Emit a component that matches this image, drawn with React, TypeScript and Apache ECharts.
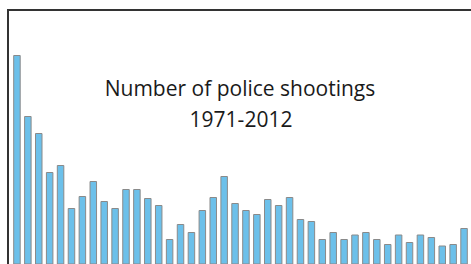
import React, { useEffect, useRef } from "react";
import * as echarts from "echarts";

const years: string[] = [
  "1971", "1972", "1973", "1974", "1975", "1976", "1977", "1978", "1979", "1980",
  "1981", "1982", "1983", "1984", "1985", "1986", "1987", "1988", "1989", "1990",
  "1991", "1992", "1993", "1994", "1995", "1996", "1997", "1998", "1999", "2000",
  "2001", "2002", "2003", "2004", "2005", "2006", "2007", "2008", "2009", "2010",
  "2011", "2012",
];

const shootings: number[] = [
  470, 348, 314, 236, 250, 164, 188, 218, 178, 164,
  202, 202, 184, 170, 102, 132, 116, 160, 186, 228,
  174, 160, 152, 182, 170, 186, 142, 138, 102, 116,
  102, 111, 116, 102, 92, 111, 96, 111, 106, 89,
  92, 124,
];

const titleLines: string[] = ["Number of police shootings", "1971-2012"];

export default function App() {
  const ref = useRef<HTMLDivElement>(null);
  useEffect(() => {
    if (!ref.current) return;
    const chart = echarts.init(ref.current, null, { renderer: "svg" });
    chart.setOption({
      animation: false,
      backgroundColor: "#ffffff",
      grid: { left: 11.5, right: 1.5, top: 0, bottom: 0, containLabel: false },
      xAxis: {
        type: "category",
        data: years,
        show: false,
        boundaryGap: true,
      },
      yAxis: {
        type: "value",
        min: 52,
        max: 580,
        show: false,
        splitLine: { show: false },
      },
      series: [
        {
          type: "bar",
          data: shootings,
          barWidth: 7.5,
          itemStyle: {
            color: "#6cc0ea",
            borderColor: "#8a8a8a",
            borderWidth: 1,
          },
          clip: true,
        },
      ],
      graphic: [
        {
          type: "polyline",
          shape: { points: [[8, 264], [8, 10], [471, 10]] },
          style: { stroke: "#333333", lineWidth: 2, fill: "none" },
          z: 10,
        },
        {
          type: "text",
          x: 240,
          y: 88,
          style: {
            text: titleLines[0],
            font: "21px 'Open Sans'",
            fill: "#1a1a1a",
            textAlign: "center",
            textVerticalAlign: "middle",
          },
        },
        {
          type: "text",
          x: 241,
          y: 119,
          style: {
            text: titleLines[1],
            font: "21px 'Open Sans'",
            fill: "#1a1a1a",
            textAlign: "center",
            textVerticalAlign: "middle",
          },
        },
      ],
    });
    return () => chart.dispose();
  }, []);
  return (
    <div
      ref={ref}
      style={{ position: "absolute", left: 0, top: 0, width: 471, height: 264 }}
    />
  );
}
